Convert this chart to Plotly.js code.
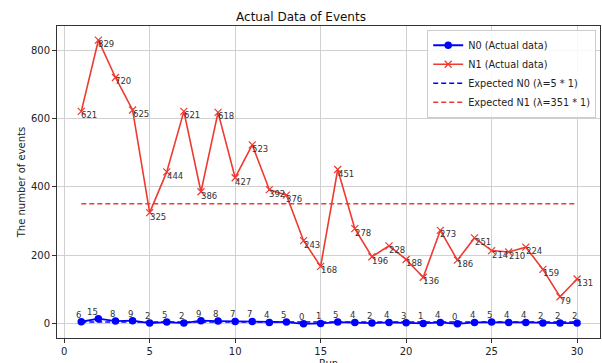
<!DOCTYPE html>
<html><head><meta charset="utf-8">
<script src="https://cdn.plot.ly/plotly-3.0.1.min.js"></script>
<style>html,body{margin:0;padding:0;background:#fff}#c{width:602px;height:363px}</style>
</head><body><div id="c"></div>
<script>
const runs = Array.from({length:30},(_,i)=>i+1);
const n0 = [6,15,8,9,2,5,2,9,8,7,7,4,5,0,1,5,4,2,4,3,1,4,0,4,5,4,4,2,2,2];
const n1 = [621,829,720,625,325,444,621,386,618,427,523,392,376,243,168,451,278,196,228,188,136,273,186,251,214,210,224,159,79,131];
const lambda0 = 5, lambda1 = 351;
const expX = [1, 30];

const red = '#ee3a30', blue = '#0000ff';
const data = [
  {x:runs, y:n0, name:'N0 (Actual data)', mode:'lines+markers',
   line:{color:blue, width:1.8}, marker:{symbol:'circle', size:7.5, color:blue}},
  {x:runs, y:n1, name:'N1 (Actual data)', mode:'lines+markers',
   line:{color:red, width:1.6}, marker:{symbol:'x-thin', size:7, line:{color:red, width:1.2}, color:red}},
  {x:expX, y:[lambda0,lambda0], name:'Expected N0 (λ=5 * 1)', mode:'lines',
   line:{color:blue, width:1.5, dash:'5px,3px'}},
  {x:expX, y:[lambda1,lambda1], name:'Expected N1 (λ=351 * 1)', mode:'lines',
   line:{color:red, width:1.5, dash:'5px,3px'}}
];
const annFont = {family:'DejaVu Sans', size:8.5, color:'#333'};
const annotations = [];
runs.forEach((r,i)=>{
  annotations.push({x:r, y:n1[i], text:String(n1[i]), showarrow:false, xanchor:'left', yanchor:'top',
    xshift:-1, yshift:2, font:annFont, borderpad:0});
  annotations.push({x:r, y:n0[i], text:String(n0[i]), showarrow:false, xanchor:'right', yanchor:'bottom',
    xshift:1, yshift:1, font:annFont, borderpad:0});
});
// x-axis title, placed low like the (cropped) reference
annotations.push({xref:'paper', yref:'paper', x:0.5, y:-0.062, xanchor:'center', yanchor:'top',
  text:'Run', showarrow:false, font:{family:'DejaVu Sans', size:10, color:'#222'}, borderpad:0});
const layout = {
  width:602, height:363,
  margin:{l:57, r:2, t:26, b:25},
  paper_bgcolor:'#fff', plot_bgcolor:'#fff',
  font:{family:'DejaVu Sans', size:10, color:'#222'},
  title:{text:'Actual Data of Events', font:{size:12, color:'#111'}, x:0.5, xanchor:'center', y:0.953, yanchor:'middle'},
  showlegend:true,
  legend:{x:0.993, xanchor:'right', y:0.988, yanchor:'top', bgcolor:'rgba(255,255,255,0.85)',
    bordercolor:'#ccc', borderwidth:1, font:{size:9.7}, tracegroupgap:0, itemwidth:30},
  annotations:annotations,
  xaxis:{range:[-0.42,31.34], tickvals:[0,5,10,15,20,25,30], showgrid:true, gridcolor:'#d0d0d0',
    zeroline:false, showline:true, linecolor:'#333', mirror:true, ticks:'outside', ticklen:4, tickcolor:'#333'},
  yaxis:{range:[-41.5,870.5], tickvals:[0,200,400,600,800], showgrid:true, gridcolor:'#d0d0d0',
    zeroline:false, showline:true, linecolor:'#333', mirror:true, ticks:'outside', ticklen:4, tickcolor:'#333',
    title:{text:'The number of events', standoff:3, font:{size:10}}}
};
Plotly.newPlot('c', data, layout, {displayModeBar:false, staticPlot:true});
</script></body></html>
